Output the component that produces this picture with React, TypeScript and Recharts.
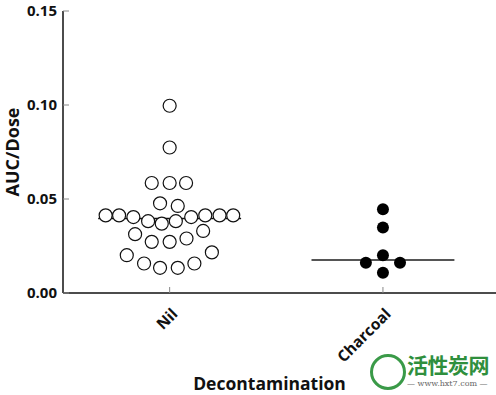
import {
  ReferenceLine,
  Scatter,
  ScatterChart,
  XAxis,
  YAxis,
} from "recharts";

// groups on the x axis (numeric positions 1 and 2)
const groups = ["Nil", "Charcoal"];
const yTicks = [0, 0.05, 0.1, 0.15];

// AUC/Dose per patient
const nilValues = [
  0.0996, 0.0774, 0.0585, 0.0585, 0.0585, 0.0477, 0.0463, 0.0413, 0.0413, 0.0404,
  0.0382, 0.0369, 0.0382, 0.0404, 0.0413, 0.0413, 0.0413, 0.0313, 0.033, 0.0272,
  0.0272, 0.029, 0.0201, 0.0216, 0.0157, 0.0134, 0.0134, 0.0157,
];
// horizontal spread of each dot inside its group (category units)
const nilJitter = [
  0, 0, -0.084, 0, 0.077, -0.045, 0.038, -0.3, -0.237, -0.17,
  -0.101, -0.037, 0.029, 0.101, 0.167, 0.234, 0.298, -0.162, 0.157, -0.084,
  0, 0.079, -0.201, 0.198, -0.12, -0.045, 0.038, 0.116,
];

const charcoalValues = [0.0445, 0.0348, 0.0201, 0.0161, 0.0161, 0.0108];
const charcoalJitter = [0, 0, 0, -0.08, 0.08, 0];

// medians drawn as horizontal bars
const medians = [0.0396, 0.0175];
const medianHalfWidth = 0.335;

const nilPoints = nilValues.map((v, i) => ({ x: 1 + nilJitter[i], y: v }));
const charcoalPoints = charcoalValues.map((v, i) => ({ x: 2 + charcoalJitter[i], y: v }));

const FONT = "'Open Sans', Lato, sans-serif";

function YTick(props: any) {
  const { x, y, payload } = props;
  return (
    <g>
      <line x1={x + 6} x2={x + 12} y1={y} y2={y} stroke="#888" strokeWidth={1} />
      <text
        x={x}
        y={y}
        dy="0.36em"
        textAnchor="end"
        fontFamily={FONT}
        fontWeight={700}
        fontSize={15}
        fill="#111"
      >
        {payload.value.toFixed(2)}
      </text>
    </g>
  );
}

function XTick(props: any) {
  const { x, y, payload } = props;
  const label = groups[payload.value - 1];
  const tx = x + 9;
  const ty = y + 22;
  return (
    <g>
      <line x1={x} x2={x} y1={y} y2={y - 6} stroke="#888" strokeWidth={1} />
      <text
        x={tx}
        y={ty}
        textAnchor="end"
        transform={`rotate(-45, ${tx}, ${ty})`}
        fontFamily={FONT}
        fontWeight={700}
        fontSize={15.5}
        fill="#111"
      >
        {label}
      </text>
    </g>
  );
}

const renderYLabel = (props: any) => {
  const { viewBox } = props;
  const cx = viewBox.x + 19;
  const cy = viewBox.y + viewBox.height / 2;
  return (
    <text
      x={cx}
      y={cy}
      textAnchor="middle"
      transform={`rotate(-90, ${cx}, ${cy})`}
      fontFamily={FONT}
      fontWeight={700}
      fontSize={18}
      fill="#111"
    >
      AUC/Dose
    </text>
  );
};

const renderXLabel = (props: any) => {
  const { viewBox } = props;
  return (
    <text
      x={viewBox.x + viewBox.width / 2 - 10}
      y={viewBox.y + viewBox.height - 5}
      textAnchor="middle"
      fontFamily={FONT}
      fontWeight={700}
      fontSize={17.5}
      fill="#111"
    >
      Decontamination
    </text>
  );
};

const openDot = (p: any) => (
  <circle cx={p.cx} cy={p.cy} r={6.5} fill="#fff" stroke="#111" strokeWidth={1.2} />
);
const filledDot = (p: any) => <circle cx={p.cx} cy={p.cy} r={6} fill="#000" />;

export default function App() {
  return (
    <div style={{ position: "absolute", left: 0, top: 0, width: 496, height: 395, background: "#fff" }}>
      <ScatterChart width={496} height={395} margin={{ top: 11, right: 0, bottom: 0, left: 0 }}>
        <XAxis
          type="number"
          dataKey="x"
          domain={[0.5, 2.53]}
          ticks={[1, 2]}
          height={102}
          tickSize={0}
          tickMargin={0}
          tick={<XTick />}
          axisLine={{ stroke: "#111", strokeWidth: 1.5 }}
          label={renderXLabel}
        />
        <YAxis
          type="number"
          dataKey="y"
          domain={[0, 0.15]}
          ticks={yTicks}
          width={63}
          tickSize={0}
          tickMargin={6}
          tick={<YTick />}
          axisLine={{ stroke: "#111", strokeWidth: 1.5 }}
          label={renderYLabel}
        />
        <Scatter data={nilPoints} shape={openDot} isAnimationActive={false} />
        <ReferenceLine
          segment={[
            { x: 1 - medianHalfWidth, y: medians[0] },
            { x: 1 + medianHalfWidth, y: medians[0] },
          ]}
          stroke="#111"
          strokeWidth={1.5}
        />
        <ReferenceLine
          segment={[
            { x: 2 - medianHalfWidth, y: medians[1] },
            { x: 2 + medianHalfWidth, y: medians[1] },
          ]}
          stroke="#555"
          strokeWidth={2}
        />
        <Scatter data={charcoalPoints} shape={filledDot} isAnimationActive={false} />
      </ScatterChart>
      {/* site watermark */}
      <div
        style={{
          position: "absolute",
          left: 370,
          top: 354,
          width: 30,
          height: 30,
          borderRadius: "50%",
          border: "3px solid #3a9a48",
        }}
      />
      <div
        style={{
          position: "absolute",
          left: 407,
          top: 350,
          fontFamily: "'Noto Sans CJK SC', sans-serif",
          fontWeight: 700,
          fontSize: 21,
          color: "#2f8f3d",
          lineHeight: "28px",
          letterSpacing: -0.5,
        }}
      >
        活性炭网
      </div>
      <div
        style={{
          position: "absolute",
          left: 407,
          top: 378,
          fontFamily: "'DejaVu Serif', serif",
          fontSize: 8,
          color: "#666",
          lineHeight: "12px",
          whiteSpace: "nowrap",
        }}
      >
        — www.hxt7.com —
      </div>
    </div>
  );
}
